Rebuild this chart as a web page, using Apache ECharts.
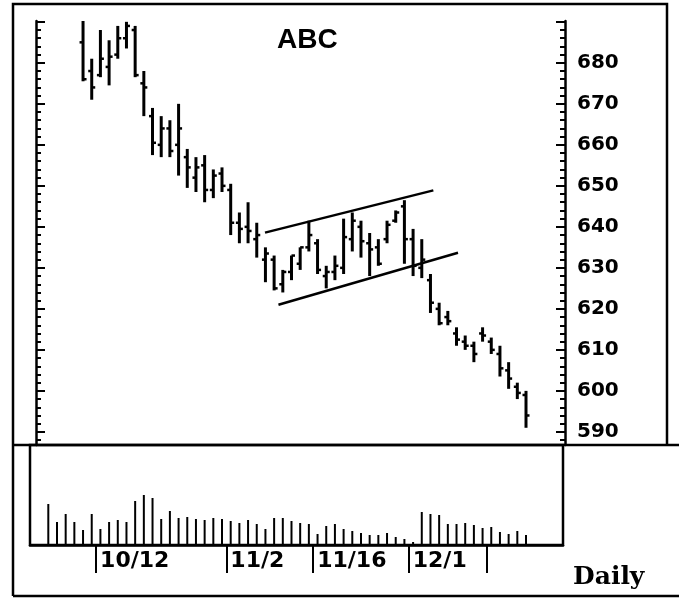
<!DOCTYPE html>
<html>
<head>
<meta charset="utf-8">
<script src="https://cdn.jsdelivr.net/npm/echarts@6/dist/echarts.min.js"></script>
<style>html,body{margin:0;padding:0;background:#fff;}#c{width:679px;height:598px;}</style>
</head>
<body>
<div id="c"></div>
<script>
// ---- data ----
// price bars: day index (shared with volume), open, high, low, close
var priceDay = [4,5,6,7,8,9,10,11,12,13,14,15,16,17,18,19,20,21,22,23,24,25,26,27,28,29,30,31,32,33,34,35,36,37,38,39,40,41,42,43,44,45,46,47,48,49,50,51,52,53,54,55];
var priceOpen  = [685,678,677,679,682,686,688,675,667,660,664,660,657,652,655,649,653,649,641,640,637,632,632,626,629,631,635,636,628,629,630,637,640,636,635,637,641.5,645,637,630,627,620,618,614,612,611,614,612,609,605,601,599];
var priceHigh  = [691,681,688,685.5,689,690,689,678,669,667,666,670,659,657,657.5,654,654.5,650.5,643.5,646,641,635,633,629.5,633,635,641.5,637,630.5,633,642,643.5,641.5,638.5,637,641.5,644,646.5,639.5,637,628.5,621.5,619.5,615.5,613.5,612,615.5,613,611,607,602,600];
var priceLow   = [675.5,671,676.5,674.5,681,683.5,676.5,667,657.5,657,657,652.5,649.5,648.5,646,647,648.5,638,636,636,632.5,626.5,624.5,624,627,629.5,634,628.5,625,627,628.5,634,632.5,628,630.5,636,641,631,628,627.5,619,616,616,611,610,607,612,609,603.5,600.5,598,591];
var priceClose = [676,674,681,681.5,686,689,677,674,660.5,664,658.5,664,654.5,654.5,649,652.5,650,641,639.5,639,638,633.5,625,629,633,635,638,629.5,629,630.5,637.5,641.5,636.5,634.5,631,640.5,643.5,637,630.5,632,621.5,616.5,617,612.5,611,609,613.5,610,605.5,603,599.5,594];
// volume (relative units), one per day index 0..55
var volume = [41,23,31,23,15,31,16,23,25,23,44,50,47,26,34,27,28,26,25,27,26,24,22,25,21,16,27,27,24,22,21,11,19,21,16,14,12,10,10,12,8,6,3,33,31,30,21,21,22,20,17,18,13,11,14,10];
// trend channel lines: [day index, price]
var channelUpper = [[24.95,638.6],[44.33,648.9]];
var channelLower = [[26.5,621.0],[47.17,633.7]];
// axis ticks / labels
var priceLabels = [590,600,610,620,630,640,650,660,670,680];
var priceMajorTicks = [590,600,610,620,630,640,650,660,670,680,690];
var priceMinorTicks = [588,590,592,594,596,598,600,602,604,606,608,610,612,614,616,618,620,622,624,626,628,630,632,634,636,638,640,642,644,646,648,650,652,654,656,658,660,662,664,666,668,670,672,674,676,678,680,682,684,686,688,690];
var dateTickPos = [5.5,20.5,30.5,41.5,50.5];
var dateLabels = ['10/12','11/2','11/16','12/1',''];
var titleText = 'ABC';
var periodText = 'Daily';

// ---- build ----
var ohlc = priceDay.map(function(d,i){return [d,priceOpen[i],priceHigh[i],priceLow[i],priceClose[i]];});
var vol = volume.map(function(v,i){return [i,v];});

var chart = echarts.init(document.getElementById('c'), null, {renderer:'canvas'});
var BLACK = '#000';
var font = 'DejaVu Sans';

function yAx(pos, ticks, len, labels, line){
  return {
    type:'value', gridIndex:0, position:pos, min:586.8, max:690.2,
    splitLine:{show:false},
    axisLine:{show:line, onZero:false, lineStyle:{color:BLACK,width:2.5}},
    axisTick:{show:true, inside:true, length:len, customValues:ticks, lineStyle:{color:BLACK,width:2}},
    axisLabel: labels ? {show:true, customValues:priceLabels, margin:12, color:BLACK, fontFamily:font, fontWeight:'bold', fontSize:20} : {show:false}
  };
}

var option = {
  backgroundColor:'#fff',
  animation:false,
  title:{text:titleText, left:272, top:21, textStyle:{fontFamily:'Liberation Sans', fontWeight:'bold', fontSize:28, color:BLACK}},
  grid:[
    {left:36, right:114, top:21, height:424},
    {left:30, right:116, top:445, height:100, show:true, borderColor:BLACK, borderWidth:2.5, backgroundColor:'transparent'}
  ],
  xAxis:[
    {type:'value', gridIndex:0, min:-1.416, max:59.49, show:false},
    {type:'value', gridIndex:1, min:-2.107, max:59.26,
      splitLine:{show:false},
      axisLine:{show:true, onZero:false, lineStyle:{color:BLACK,width:2.5}},
      axisTick:{show:true, inside:false, length:28, customValues:dateTickPos, lineStyle:{color:BLACK,width:2}},
      axisLabel:{show:true, customValues:dateTickPos, align:'left', margin:5, padding:[0,0,0,4],
        formatter:function(v){var k=dateTickPos.indexOf(v);return k>=0?dateLabels[k]:'';},
        color:BLACK, fontFamily:font, fontWeight:'bold', fontSize:22}
    }
  ],
  yAxis:[
    yAx('right', priceMajorTicks, 9, true, true),
    yAx('right', priceMinorTicks, 5, false, false),
    yAx('left', priceMajorTicks, 9, false, true),
    yAx('left', priceMinorTicks, 5, false, false),
    {type:'value', gridIndex:1, min:0, max:100, show:false}
  ],
  series:[
    {type:'custom', xAxisIndex:0, yAxisIndex:0, clip:true, data:ohlc,
      encode:{x:0, y:[1,2,3,4]},
      renderItem:function(params, api){
        var d=api.value(0);
        var pH=api.coord([d,api.value(2)]), pL=api.coord([d,api.value(3)]);
        var pO=api.coord([d,api.value(1)]), pC=api.coord([d,api.value(4)]);
        var st={stroke:BLACK, lineWidth:3};
        var st2={stroke:BLACK, lineWidth:2.5};
        return {type:'group', children:[
          {type:'line', shape:{x1:pH[0],y1:pH[1],x2:pL[0],y2:pL[1]}, style:st},
          {type:'line', shape:{x1:pO[0]-3.5,y1:pO[1],x2:pO[0],y2:pO[1]}, style:st2},
          {type:'line', shape:{x1:pC[0],y1:pC[1],x2:pC[0]+3.5,y2:pC[1]}, style:st2}
        ]};
      }
    },
    {type:'line', xAxisIndex:0, yAxisIndex:0, data:channelUpper, symbol:'none', lineStyle:{color:BLACK,width:2.5}},
    {type:'line', xAxisIndex:0, yAxisIndex:0, data:channelLower, symbol:'none', lineStyle:{color:BLACK,width:2.5}},
    {type:'custom', xAxisIndex:1, yAxisIndex:4, data:vol,
      encode:{x:0, y:1},
      renderItem:function(params, api){
        var p0=api.coord([api.value(0),0]), p1=api.coord([api.value(0),api.value(1)]);
        return {type:'line', shape:{x1:p0[0],y1:p0[1],x2:p1[0],y2:p1[1]}, style:{stroke:BLACK,lineWidth:2}};
      }
    }
  ],
  graphic:[
    {type:'polyline', shape:{points:[[13,596],[13,4],[667,4],[667,445]]}, style:{stroke:BLACK, lineWidth:2.5, fill:null}},
    {type:'line', shape:{x1:13,y1:445,x2:679,y2:445}, style:{stroke:BLACK, lineWidth:2.5}},
    {type:'line', shape:{x1:13,y1:596,x2:679,y2:596}, style:{stroke:BLACK, lineWidth:2.5}},
    {type:'text', left:573, top:565, style:{text:periodText, fill:BLACK, font:'bold 25px "DejaVu Serif"'}}
  ]
};
chart.setOption(option);
</script>
</body>
</html>
